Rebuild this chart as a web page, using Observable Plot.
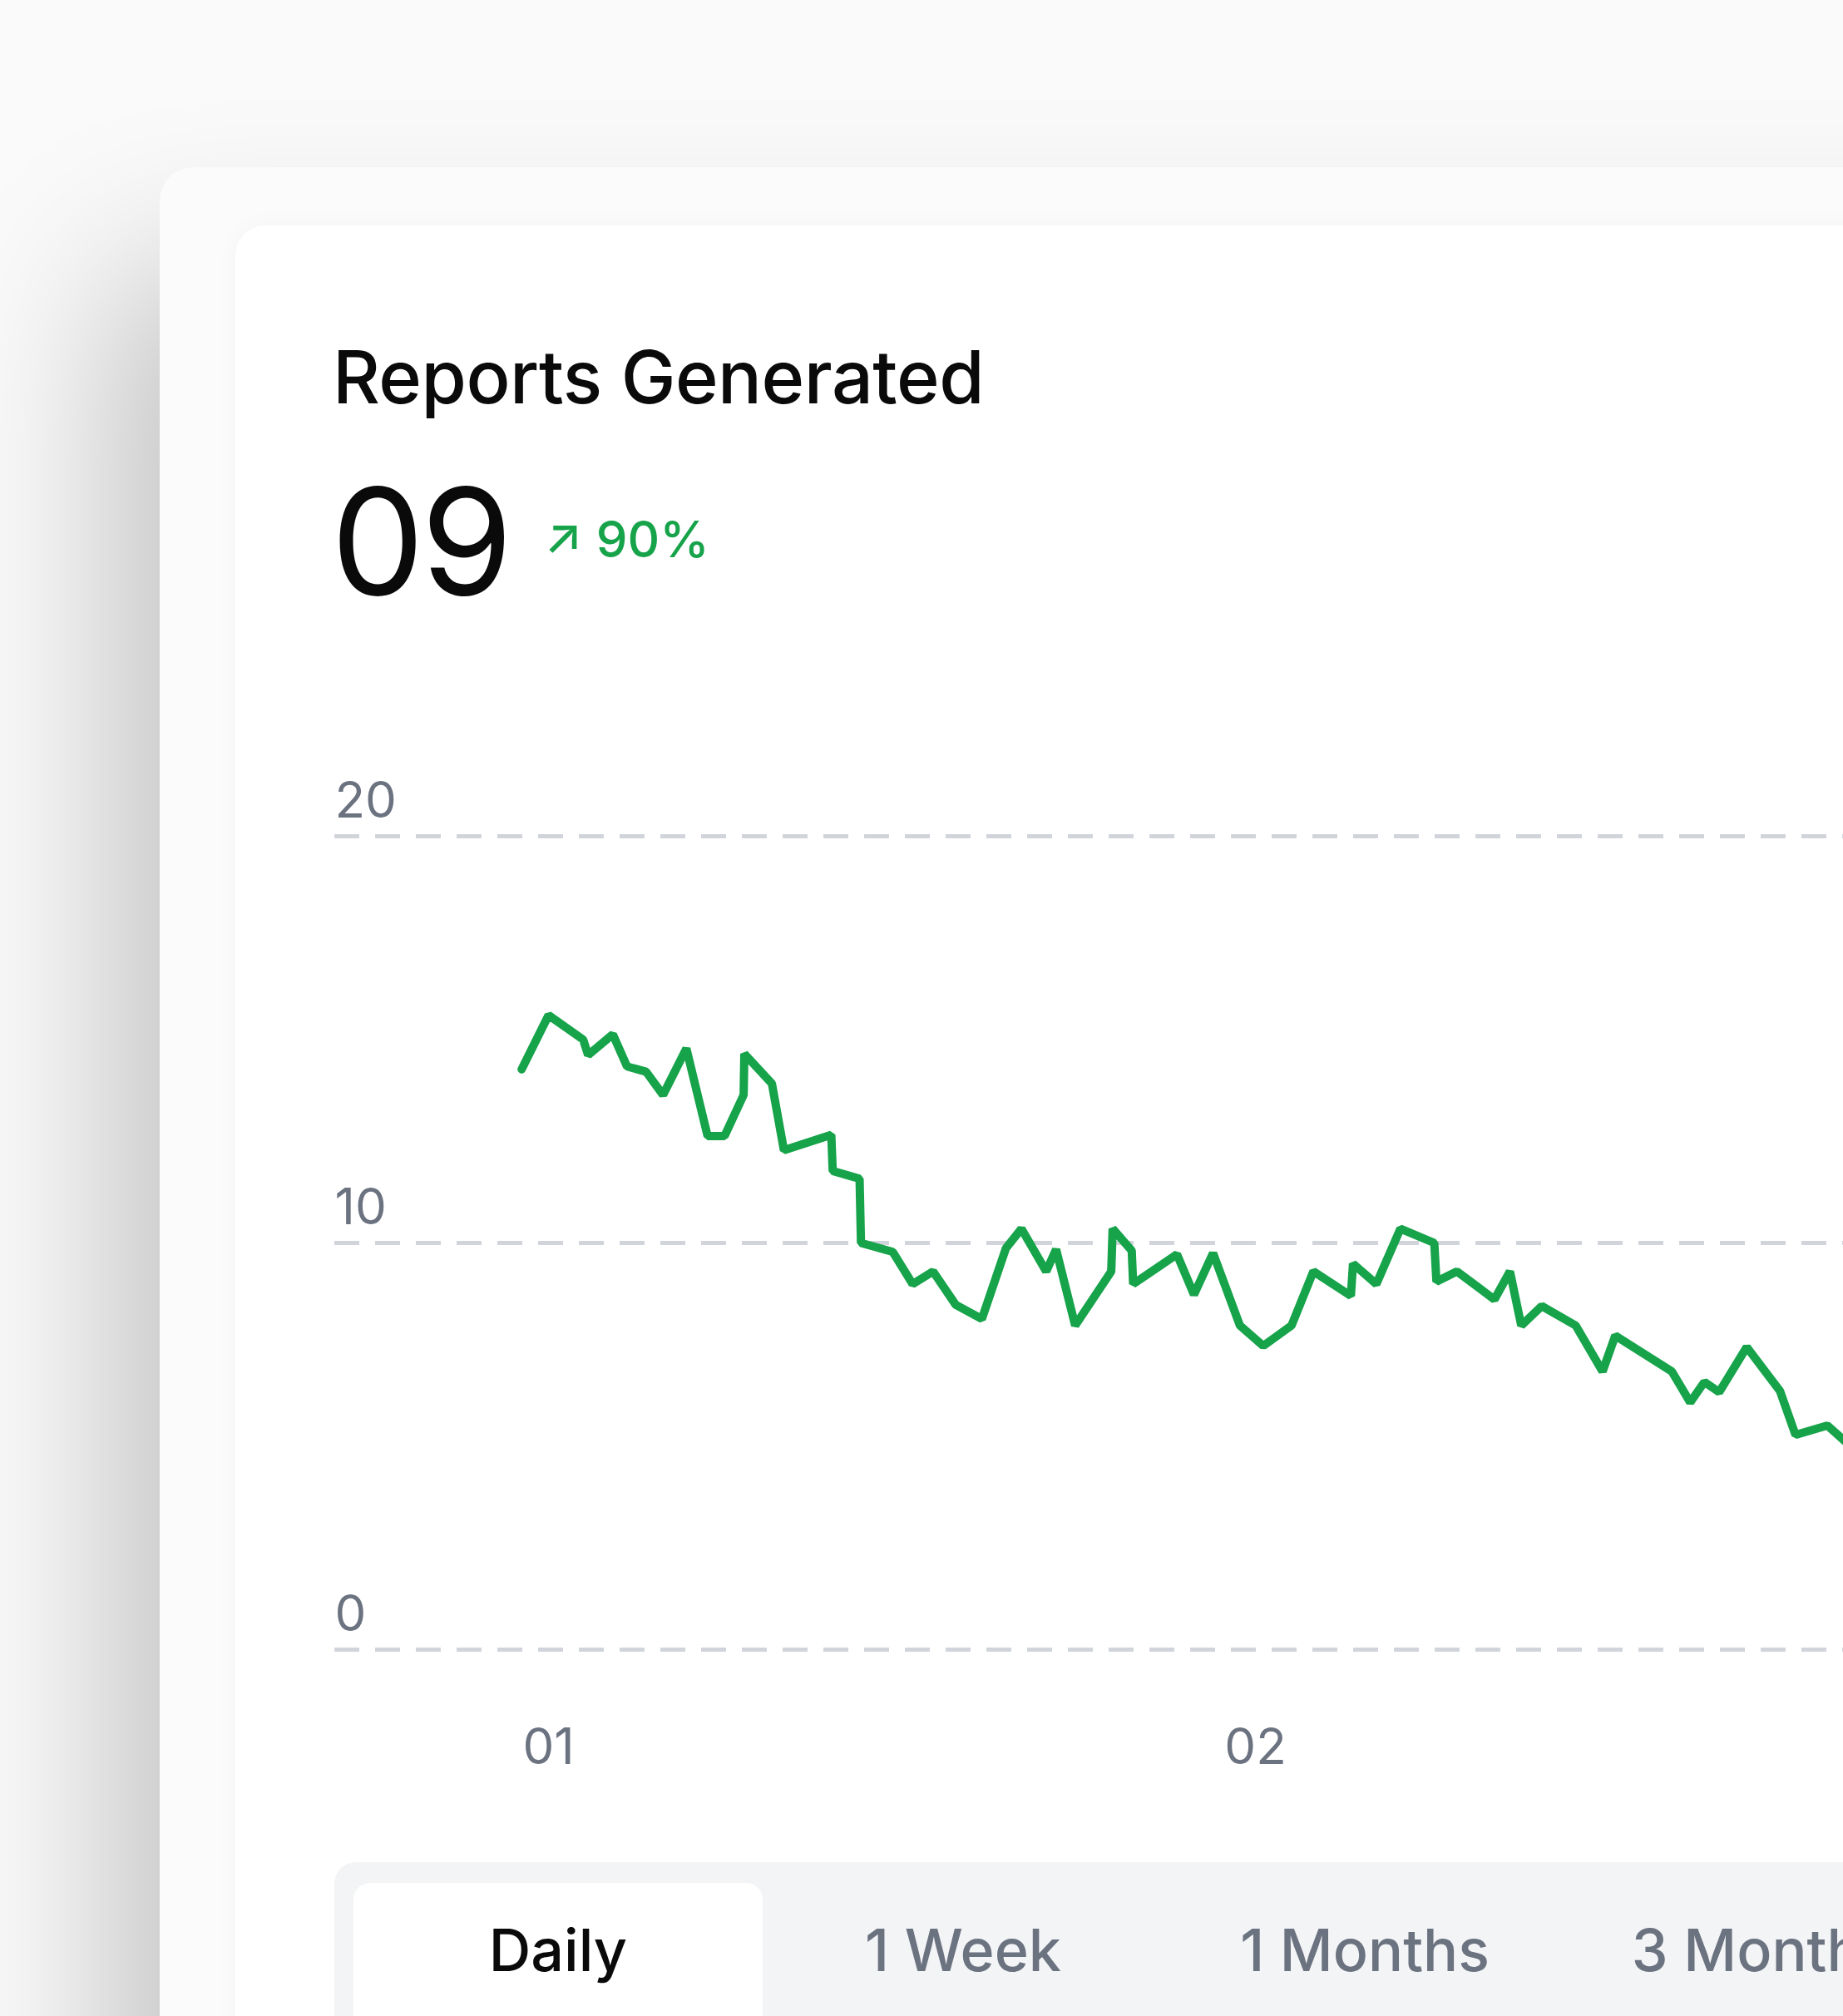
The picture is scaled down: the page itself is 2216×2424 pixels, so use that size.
<!DOCTYPE html>
<html>
<head>
<meta charset="utf-8">
<script src="https://cdn.jsdelivr.net/npm/d3@7"></script>
<script src="https://cdn.jsdelivr.net/npm/@observablehq/plot@0.6"></script>
<style>
  html, body { margin: 0; width: 2216px; height: 2424px; overflow: hidden; background: #fafafa; font-family: Inter, "Noto Sans", sans-serif; }
  .outer { position: absolute; left: 192px; top: 201px; width: 2300px; height: 2400px; background: #fbfbfb; border-radius: 40px;
           box-shadow: -60px 120px 200px rgba(0,0,0,0.22); }
  .inner { position: absolute; left: 283px; top: 271px; width: 2200px; height: 2300px; background: #fff; border-radius: 36px;
           box-shadow: 0 0 30px rgba(0,0,0,0.03); }
  .title { position: absolute; left: 400px; top: 400px; font-size: 88px; font-weight: 500; color: #0a0a0a; letter-spacing: -0.5px; }
  .value { position: absolute; left: 398px; top: 562px; font-size: 178px; font-weight: 400; color: #0a0a0a; letter-spacing: -4px; line-height: 1; }
  .delta { position: absolute; left: 654px; top: 612px; font-size: 60px; font-weight: 500; color: #16a34a; }
  #chart { position: absolute; left: 402px; top: 900px; }
  .tabs { position: absolute; left: 402px; top: 2239px; width: 1900px; height: 260px; background: #f3f4f6; border-radius: 26px; }
  .tab { position: absolute; top: 2264px; height: 240px; font-size: 70px; font-weight: 500; color: #6b7280; line-height: 162px; text-align: center; }
  .tab.active { background: #fff; color: #0a0a0a; border-radius: 20px; }
</style>
</head>
<body>
<div class="outer"></div>
<div class="inner"></div>
<div class="title">Reports Generated</div>
<div class="value">09</div>
<div class="delta">↗ 90%</div>
<div id="chart"></div>
<div class="tabs"></div>
<div class="tab active" style="left:425px;width:492px;">Daily</div>
<div class="tab" style="left:958px;width:400px;">1 Week</div>
<div class="tab" style="left:1441px;width:400px;">1 Months</div>
<div class="tab" style="left:1919px;width:400px;">3 Months</div>
<script>
const days = [0.962,1.000,1.049,1.056,1.091,1.111,1.138,1.162,1.195,1.225,1.249,1.276,1.277,1.316,1.333,1.400,1.402,1.440,1.442,1.487,1.515,1.544,1.576,1.613,1.647,1.669,1.704,1.718,1.745,1.796,1.798,1.825,1.827,1.889,1.913,1.940,1.978,2.011,2.051,2.082,2.135,2.138,2.171,2.205,2.253,2.256,2.285,2.338,2.360,2.376,2.405,2.453,2.491,2.509,2.589,2.615,2.635,2.656,2.695,2.742,2.764,2.809,2.844];
const reports = [14.27,15.60,15.00,14.62,15.13,14.34,14.21,13.64,14.78,12.63,12.63,13.64,14.65,13.92,12.28,12.66,11.77,11.58,10.00,9.78,8.99,9.30,8.48,8.13,9.87,10.35,9.30,9.84,7.97,9.30,10.35,9.81,8.99,9.72,8.73,9.75,7.97,7.47,7.97,9.30,8.70,9.49,8.99,10.35,10.00,9.05,9.30,8.61,9.30,7.97,8.45,7.97,6.84,7.72,6.84,6.08,6.58,6.33,7.44,6.36,5.28,5.51,4.97];
const yTicks = [0, 10, 20];
const xTicks = [1, 2];

const data = days.map((d, i) => ({day: d, value: reports[i]}));
const width = 1814;

const plot = Plot.plot({
  width,
  height: 1260,
  marginTop: 105,
  marginBottom: 177,
  marginLeft: 0,
  marginRight: 0,
  style: {background: "transparent", fontFamily: "Inter, sans-serif", overflow: "visible"},
  x: {domain: [0.6976, 0.6976 + width / 850], axis: null},
  y: {domain: [0, 20], axis: null},
  marks: [
    Plot.ruleY(yTicks, {stroke: "#d1d5db", strokeWidth: 5, strokeDasharray: "30 19"}),
    Plot.text(yTicks, {y: (d) => d, text: (d) => String(d), frameAnchor: "left", textAnchor: "start", dy: -42, fontSize: 60, fill: "#6b7280"}),
    Plot.text(xTicks, {x: (d) => d, text: (d) => d3.format("02")(d), frameAnchor: "bottom", dy: 137, fontSize: 60, fill: "#6b7280"}),
    Plot.line(data, {x: "day", y: "value", stroke: "#16a34a", strokeWidth: 10, strokeLinejoin: "miter", clip: true})
  ]
});
document.getElementById("chart").append(plot);
</script>
</body>
</html>
